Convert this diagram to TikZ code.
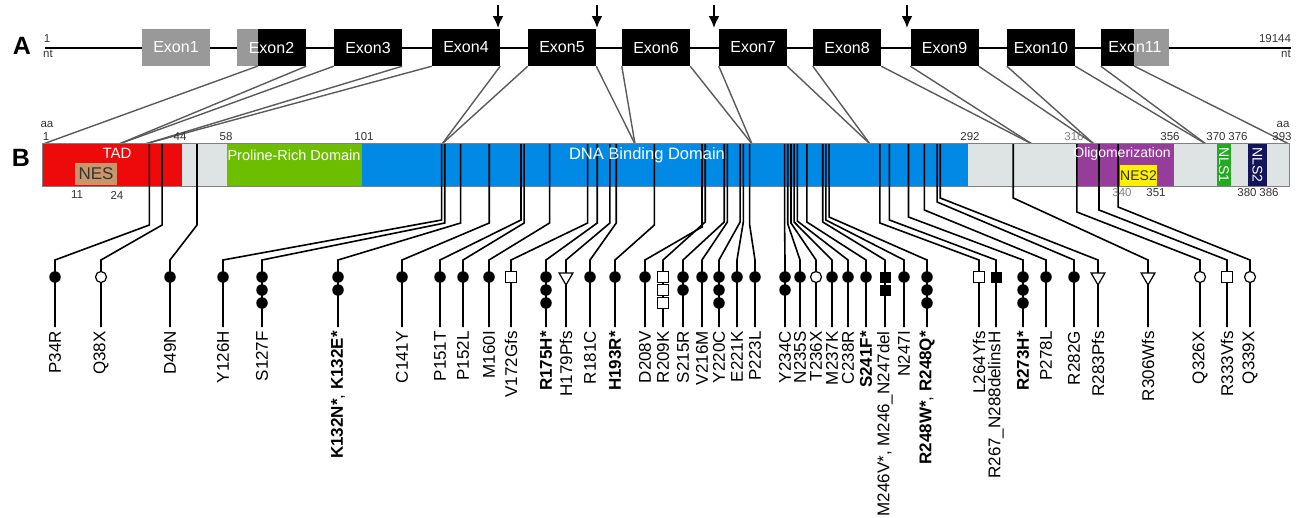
\documentclass[tikz,border=0pt]{standalone}
\usepackage{fontspec}
\setmainfont{Liberation Sans}
\usetikzlibrary{shapes.geometric,arrows.meta}
\definecolor{exgray}{HTML}{999999}
\definecolor{tadred}{HTML}{EE0A0A}
\definecolor{nestan}{HTML}{C8966A}
\definecolor{barbg}{HTML}{DEE4E4}
\definecolor{progreen}{HTML}{6EBE00}
\definecolor{dnablue}{HTML}{008AE6}
\definecolor{oligo}{HTML}{963C9B}
\definecolor{nesyel}{HTML}{FFF000}
\definecolor{nlsgreen}{HTML}{22AA22}
\definecolor{nlsnavy}{HTML}{14145A}
\definecolor{linkgray}{HTML}{5A5A5A}
\definecolor{numgray}{HTML}{333333}
\begin{document}
\begin{tikzpicture}[x=1pt, y=-1pt, >={Latex[length=12pt,width=11pt]},
  exon/.style={rectangle, fill=black, text=white, minimum width=68pt, minimum height=37pt, inner sep=0pt, font=\fontsize{16}{18}\selectfont},
  panel/.style={inner sep=0pt, font=\fontsize{25}{26}\selectfont\bfseries},
  num/.style={inner sep=0pt, text=numgray, font=\fontsize{11.5}{12}\selectfont},
  dom/.style={inner sep=0pt, text=white, font=\fontsize{15}{16}\selectfont},
  link/.style={draw=linkgray, line width=1.4pt},
  mut/.style={draw=black, line width=1.6pt},
  symd/.style={circle, fill=black, minimum size=11.5pt, inner sep=0pt},
  symc/.style={circle, draw=black, fill=white, line width=1.2pt, minimum size=11pt, inner sep=0pt},
  syms/.style={rectangle, draw=black, fill=white, line width=1.2pt, minimum size=11pt, inner sep=0pt},
  symf/.style={rectangle, fill=black, minimum size=11pt, inner sep=0pt},
  symt/.style={regular polygon, regular polygon sides=3, shape border rotate=180, draw=black, fill=white, line width=1.2pt, minimum size=16pt, inner sep=0pt},
  mlab/.style={rotate=90, anchor=east, inner sep=0pt, font=\fontsize{17}{18}\selectfont}]
\useasboundingbox (0,0) rectangle (1297,517);

\node (A) [panel] at (22,46) {A};
\node (B) [panel] at (21,158) {B};

\coordinate (g0) at (45,48);
\coordinate (g1) at (1291,48);
\draw[line width=1.8pt] (g0) -- (g1);
\node (nt1) [num] at (47,39) {1};
\node (nt1u) [num] at (48,54) {nt};
\node (nt2) [num] at (1275,39) {19144};
\node (nt2u) [num] at (1286,54) {nt};

\foreach \k/\ax in {1/498, 2/597, 3/714, 4/907} {
  \coordinate (ar\k) at (\ax,5);
  \coordinate (ah\k) at (\ax,28);
  \draw[->, line width=2pt] (ar\k) -- (ah\k);
}

\node (E1) [exon, fill=exgray] at (176,47.5) {Exon1};
\fill[exgray] (237,29) rectangle (258,66);
\fill (258,29) rectangle (306,66);
\node (E2) [exon, fill=none, minimum width=69pt] at (271.5,47.5) {Exon2};
\node (E3) [exon] at (368,47.5) {Exon3};
\node (E4) [exon] at (466,47.5) {Exon4};
\node (E5) [exon] at (562,47.5) {Exon5};
\node (E6) [exon] at (656,47.5) {Exon6};
\node (E7) [exon] at (753,47.5) {Exon7};
\node (E8) [exon] at (847,47.5) {Exon8};
\node (E9) [exon] at (944.5,47.5) {Exon9};
\node (E10) [exon] at (1041,47.5) {Exon10};
\fill (1101,29) rectangle (1134,66);
\fill[exgray] (1134,29) rectangle (1169,66);
\node (E11) [exon, fill=none] at (1135,47.5) {Exon11};
\coordinate (E2k) at (258,66);
\coordinate (E11k) at (1134,66);

\foreach \k/\jx in {0/43, 1/119, 2/145, 3/442, 4/635, 5/752, 6/870, 7/1032, 8/1094, 9/1206, 10/1289}
  \coordinate (j\k) at (\jx,144);
\draw[link] (E2k) -- (j0);
\draw[link] (E2.south east) -- (j1);
\foreach \k/\jl/\jr in {3/1/2, 4/2/3, 5/3/4, 6/4/5, 7/5/6, 8/6/7, 9/7/8, 10/8/9} {
  \draw[link] (E\k.south west) -- (j\jl);
  \draw[link] (E\k.south east) -- (j\jr);
}
\draw[link] (E11.south west) -- (j9);
\draw[link] (E11k) -- (j10);

\node (bar) [rectangle, fill=barbg, minimum width=1246pt, minimum height=42pt, inner sep=0pt] at (666,165) {};
\fill[tadred] (43,144) rectangle (182,186);
\fill[progreen] (227,144) rectangle (362,186);
\fill[dnablue] (362,144) rectangle (968,186);
\fill[oligo] (1076,144) rectangle (1174,186);
\fill[nlsgreen] (1217,144) rectangle (1231,186);
\fill[nlsnavy] (1248,144) rectangle (1267,186);
\draw[draw=gray, line width=0.8pt] (bar.north west) rectangle (bar.south east);

\foreach \i/\pos/\xs/\yb/\ty/\cnt/\lab in {
  1/34/55/225/d/1/P34R,
  2/38/101/225/c/1/Q38X,
  3/49/170/225/d/1/D49N,
  4/126/223/220/d/1/Y126H,
  5/127/262/223/d/3/S127F,
  6/132/338/223/d/2/{\textbf{K132N*}, \textbf{K132E*}},
  7/141/402/223/d/1/C141Y,
  8/151/440/220/d/1/P151T,
  9/152/463/223/d/1/P152L,
  10/160/489/223/d/1/M160I,
  11/172/511/223/s/1/V172Gfs,
  12/175/546/223/d/3/\textbf{R175H*},
  13/179/566/223/t/1/H179Pfs,
  14/181/590/223/d/1/R181C,
  15/193/615/225/d/1/\textbf{H193R*},
  16/208/645/227/d/1/D208V,
  17/209/663/222/s/3/R209K,
  18/215/683/222/d/2/S215R,
  19/216/702/222/d/1/V216M,
  20/220/719/222/d/3/Y220C,
  21/221/737/222/d/1/E221K,
  22/223/755/225/d/1/P223L,
  23/234/785/225/d/2/Y234C,
  24/235/800/224/d/1/N235S,
  25/236/816/223/c/1/T236X,
  26/237/832/222/d/1/M237K,
  27/238/848/221/d/1/C238R,
  28/241/866/222/d/1/\textbf{S241F*},
  29/246/885/222/f/2/{M246V*, M246\_N247del},
  30/247/904/220/d/1/N247I,
  31/248/927/217/d/3/{\textbf{R248W*}, \textbf{R248Q*}},
  32/264/979/223/s/1/L264Yfs,
  33/267/996/220/f/1/R267\_N288delinsH,
  34/273/1023/217/d/3/\textbf{R273H*},
  35/278/1046/210/d/1/P278L,
  36/282/1074/202/d/1/R282G,
  37/283/1098/198/t/1/R283Pfs,
  38/306/1148/198/t/1/R306Wfs,
  39/326/1200/212/c/1/Q326X,
  40/333/1227/210/s/1/R333Vfs,
  41/339/1250/207/c/1/Q339X} {
  \coordinate (b\i) at ({43+(\pos-0.5)*3.176},144);
  \coordinate (k\i) at ({43+(\pos-0.5)*3.176},\yb);
  \coordinate (t\i) at (\xs,260);
  \node (l\i) [mlab] at (\xs,331) {\lab};
  \draw[mut] (b\i) -- (k\i) -- (t\i) -- ([yshift=4pt]l\i.east);
  \foreach \j in {1,...,\cnt}
    \node (s\i-\j) [sym\ty] at (\xs,{264+13*\j}) {};
}

\node (TAD) [dom] at (117,153) {TAD};
\node (NES) [fill=nestan, minimum width=42pt, minimum height=22pt, inner sep=0pt, text=numgray, font=\fontsize{17}{18}\selectfont] at (96,174) {NES};
\node (PRD) [dom, font=\fontsize{14.5}{16}\selectfont] at (294,155) {Proline-Rich Domain};
\node (DBD) [dom, font=\fontsize{16.5}{18}\selectfont] at (647,155) {DNA Binding Domain};
\node (OLI) [dom, font=\fontsize{14}{16}\selectfont] at (1122,154) {Oligomerization};
\node (NES2) [fill=nesyel, minimum width=35pt, minimum height=21pt, inner sep=0pt, text=numgray, font=\fontsize{14}{16}\selectfont] at (1138.5,175.5) {NES2};
\node (NLS1) [dom, rotate=-90, font=\fontsize{14}{16}\selectfont] at (1224,165) {NLS1};
\node (NLS2) [dom, rotate=-90, font=\fontsize{14}{16}\selectfont] at (1257.5,165) {NLS2};

\node (aa1) [num] at (47,124) {aa};
\node (p1) [num] at (46,137) {1};
\node (p44) [num] at (180,137) {44};
\node (p58) [num] at (226,137) {58};
\node (p101) [num] at (364,137) {101};
\node (p292) [num] at (970,137) {292};
\node (p316) [num, text=gray] at (1074,137) {316};
\node (p356) [num] at (1170,137) {356};
\node (p370) [num] at (1216,137) {370};
\node (p376) [num] at (1238,137) {376};
\node (aa2) [num] at (1283,124) {aa};
\node (p393) [num] at (1282,137) {393};
\node (p11) [num] at (77,195) {11};
\node (p24) [num] at (117,195) {24};
\node (p340) [num, text=gray] at (1122,193) {340};
\node (p351) [num] at (1156,193) {351};
\node (p380) [num] at (1247,193) {380};
\node (p386) [num] at (1269,193) {386};
\end{tikzpicture}
\end{document}
